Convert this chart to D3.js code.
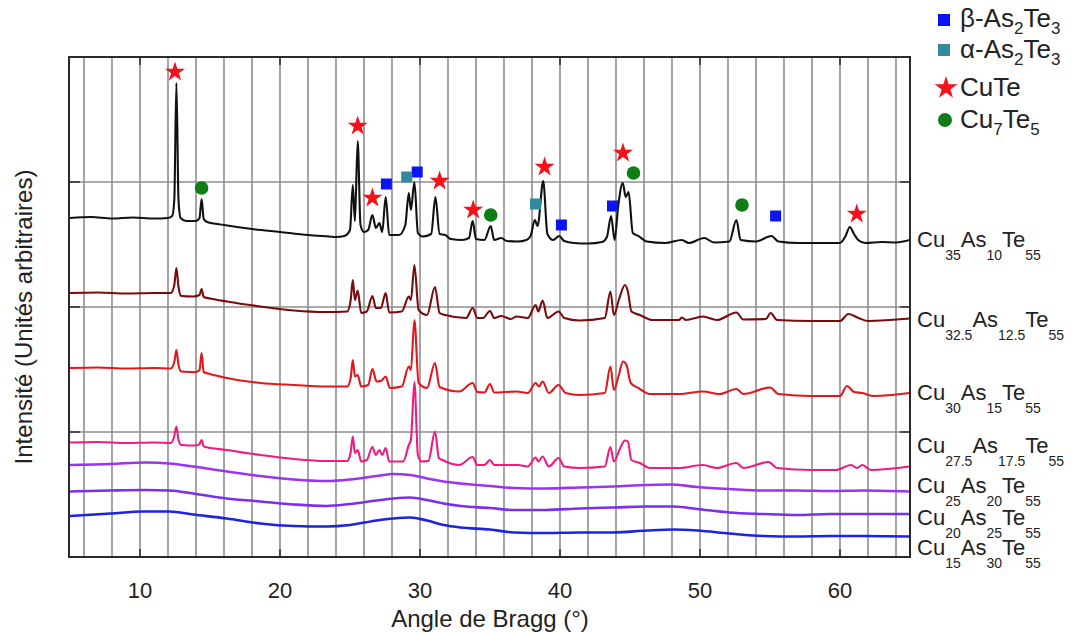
<!DOCTYPE html>
<html><head><meta charset="utf-8">
<script src="https://cdn.jsdelivr.net/npm/d3@7"></script>
<style>
body{margin:0;background:#fff}
svg{display:block}
text{font-family:"Liberation Sans",Arial,Helvetica,sans-serif;fill:#222}
</style>
</head><body>
<svg id="chart" width="1074" height="633"></svg>
<script>
// ---------- DATA ----------
const xTickLabels = [10, 20, 30, 40, 50, 60];
const yTickValues = [125, 250, 375];

// [angle (°), intensity (a.u.)]
const cu35 = [[5,339],[6.5,340],[8,338.5],[9.5,339.5],[11,338.5],[12,339],[12.3,341],[12.45,357],[12.6,474],[12.75,357],[12.9,339],[13.3,336],[14,336],[14.25,339],[14.4,358],[14.55,338],[14.8,335],[16,332],[18,328],[20,325],[22,322],[23.5,320.5],[24,320],[24.6,321],[25,327],[25.2,372],[25.35,336],[25.55,416],[25.75,332],[26,325],[26.3,327],[26.6,342],[26.85,329],[27.1,334],[27.3,325],[27.55,360],[27.8,322],[28.5,322],[28.95,332],[29.2,364],[29.35,347],[29.6,375],[29.85,324],[30.2,320.5],[30.8,323],[31.1,360],[31.4,323],[31.8,322],[32.2,318],[33,317],[33.5,319],[33.76,336],[34,318],[34.6,317],[35.05,331],[35.3,317],[35.8,319],[36.2,316],[37,315.5],[37.6,317],[37.9,321],[38.2,337],[38.4,331],[38.8,376],[39.1,323],[39.5,317],[39.95,321],[40.3,316],[41,314],[42,313.5],[43,315],[43.35,320],[43.65,341],[43.9,317],[44.15,350],[44.48,374],[44.7,360],[44.9,365],[45.2,324],[45.6,321],[46.2,315.5],[47.5,314],[48.7,317],[49.2,314],[50.3,319],[51,314.5],[52.1,315.5],[52.6,337],[52.9,317],[54,315.5],[55.1,321],[55.6,315.5],[57,314],[58.5,314],[60,314],[60.4,321],[60.7,330],[61,323],[61.3,317],[61.8,314],[63,315],[64,314.5],[65,317]];
const cu325 = [[5,264],[7,264.5],[9,263.5],[11,264],[12.2,264],[12.45,272],[12.6,289],[12.75,270],[12.95,261],[13.8,260.5],[14.25,262],[14.4,268],[14.55,260],[15,258.5],[16.2,255.5],[18.6,250.5],[21,246.5],[23.3,245],[24.8,245.5],[25.05,257],[25.2,277],[25.35,257],[25.55,266.5],[25.8,244],[26.2,245.5],[26.6,261],[26.85,249],[27.2,249],[27.55,264],[27.8,244.5],[28.7,245.5],[29.2,260.5],[29.35,257],[29.6,292],[29.9,247],[30.5,242],[31.07,270],[31.4,244],[31.8,242],[33.3,239],[33.76,249],[34.1,239],[34.5,239],[35,246],[35.3,239],[35.8,241],[36.5,238],[36.9,240.5],[37.7,239],[38.26,252],[38.45,245.5],[38.76,256.5],[39.1,239],[39.9,245.5],[40.3,239],[41.4,236.5],[43.2,239],[43.6,265.5],[43.85,242],[44.2,257],[44.64,272],[44.85,265.5],[45.1,245.5],[45.7,242],[46.6,237],[48.5,237],[48.7,239.5],[49,237],[50.2,240.5],[51.2,237],[52.6,244.5],[53.1,237.5],[54.7,238],[55.05,244],[55.5,237],[58,236],[60,236],[60.6,243],[61.4,238.5],[62,236],[65,238.5]];
const cu30 = [[5,189],[7,189.5],[9,188.5],[11,189],[12.2,188.5],[12.45,195],[12.6,207],[12.75,192],[12.95,185.5],[14,185],[14.25,187],[14.4,204],[14.55,185],[15,183],[16.2,179],[18.6,174],[21,172],[23.3,170.5],[24.8,170.5],[25.05,179],[25.2,197],[25.35,180.5],[25.55,182],[25.8,170.5],[26.3,172],[26.6,188],[26.9,175.5],[27.2,176],[27.55,180.5],[27.85,169],[28.7,170.5],[29.2,190.5],[29.35,187],[29.6,237],[29.9,174],[30.5,169],[31.07,194],[31.4,170],[32.8,165.5],[33.76,174],[34.1,165],[34.6,164.5],[35,173],[35.3,164.5],[36.9,165.5],[37.7,164],[38.26,174],[38.5,170.5],[38.76,175.5],[39.2,164],[39.9,172],[40.4,164],[41.4,162],[43.2,164],[43.6,190.5],[43.85,167],[44.2,182],[44.5,195.5],[44.75,192],[45.05,174],[45.6,169],[46.4,163],[48.5,163],[50.2,165.5],[51.4,163],[52.6,168],[53.1,163],[55,169.5],[55.6,163],[58,161],[60,161],[60.5,171],[61,165],[61.6,164],[62.4,161],[65,164]];
const cu275 = [[5,114.5],[7,115],[9,114],[11,114.5],[12.2,114],[12.45,121],[12.6,130.5],[12.75,117],[12.95,112],[14,111.5],[14.25,113],[14.4,117],[14.55,110.5],[16.2,107],[18.6,102],[21,98],[23.3,96],[24.8,96],[25.05,105],[25.2,120.5],[25.35,104],[25.55,107],[25.8,95.5],[26.2,97],[26.6,110],[26.85,102],[27.1,107],[27.3,102],[27.55,109],[27.8,95.5],[28.8,95.5],[29.2,112],[29.35,117],[29.6,175],[29.85,102],[30.1,95.5],[30.6,96],[31.07,125.5],[31.35,99],[31.6,97],[32.8,92],[33.76,100],[34.1,92],[34.6,92],[35,97],[35.3,92],[37,92],[37.7,90.5],[38.26,99.5],[38.45,95.5],[38.76,100.5],[39.2,90.5],[39.9,99],[40.3,90.5],[41.4,89],[43.2,90.5],[43.6,110],[43.85,95.5],[44.3,109],[44.64,116.5],[44.85,115.5],[45.1,97],[45.7,94],[46.4,89],[48.5,89],[50.2,92],[51.2,89],[52.6,94],[53.1,89],[54.9,95],[55.5,89],[58,87],[59.7,87],[60.8,92],[61.2,89],[61.6,92],[62.2,87],[65,90.5]];
const cu25 = [[5,92],[7.9,93],[10.4,94.5],[12.1,93.5],[13.8,90.5],[16.2,85.5],[18.6,81],[21,77.5],[23.3,76],[25,77.5],[26.9,81],[28.1,83],[29.3,82],[30.5,78.5],[31.7,75.5],[32.9,73.5],[35,71],[36.7,69],[39,68.5],[41.4,69.5],[43.8,70.5],[46.2,72],[47.9,72.5],[49.8,70],[52.1,68],[54.5,66.5],[56.9,66.5],[59.3,66],[61.7,66.5],[65,65.5]];
const cu20 = [[5,65.5],[7.9,66.5],[10.4,67],[12.1,66.5],[13.8,63.5],[16.2,58.5],[18.6,55.5],[21,52.5],[23.3,51],[25,53],[26.9,56.5],[28.1,58.5],[29.3,59.5],[30.5,57],[31.7,53.5],[32.9,51],[35,49],[36.7,47],[39,47],[41.4,48.5],[43.8,49.5],[46.2,50.5],[48.1,50.5],[49.8,48],[52.1,44.5],[54.5,43],[56.9,42],[59.3,43],[61.7,43],[65,43]];
const cu15 = [[5,41],[7.9,43.5],[10.2,45.5],[12.1,45.5],[13.8,42.5],[16.2,38.5],[18.6,33.5],[21,31],[23.3,30.5],[25,32],[26.9,36.5],[28.1,38.5],[29.3,39.5],[30.5,36.5],[31.7,32],[32.9,29.5],[35,27.5],[36.7,24.5],[39,24],[41.4,24.5],[43.8,24.5],[46.2,26.5],[48.1,27.5],[49.8,26.5],[52.1,23.5],[54.5,21],[56.9,20.5],[59.3,21],[61.7,21],[65,20.5]];

const seriesData = [cu35, cu325, cu30, cu275, cu25, cu20, cu15];
const seriesLabels = [
  [["Cu","35"],["As","10"],["Te","55"]],
  [["Cu","32.5"],["As","12.5"],["Te","55"]],
  [["Cu","30"],["As","15"],["Te","55"]],
  [["Cu","27.5"],["As","17.5"],["Te","55"]],
  [["Cu","25"],["As","20"],["Te","55"]],
  [["Cu","20"],["As","25"],["Te","55"]],
  [["Cu","15"],["As","30"],["Te","55"]]
];
const seriesColors = ["#111111","#7a0a0c","#e3161c","#f01a82","#9c33f2","#7a2ef2","#1c22e6"];

// phase markers [angle, intensity]
const cuTeStars = [[12.5,485],[25.55,431],[26.6,359],[31.4,376],[33.8,347],[38.9,390],[44.5,404],[61.2,343]];
const cu7te5Circles = [[14.4,369],[35.05,342],[45.25,384],[53.0,352]];
const betaSquares = [[27.6,373],[29.8,385],[40.1,332],[43.75,351],[55.4,341]];
const alphaSquares = [[29.05,380],[38.25,353]];

const legendItems = [
  {type:"sqB", parts:[["β-As","2"],["Te","3"]]},
  {type:"sqA", parts:[["α-As","2"],["Te","3"]]},
  {type:"star", parts:[["CuTe",""]]},
  {type:"circle", parts:[["Cu","7"],["Te","5"]]}
];

// ---------- LAYOUT ----------
const W = 1074, H = 633;
const L = 70, R = 910, T = 57, B = 557;
const COL = {sqB:"#0a14f5", sqA:"#33899c", star:"#f5101a", circle:"#0d7d14"};
const labelBaselines = [247, 327, 400, 453, 493, 525, 555];

const svg = d3.select("#chart");
const x = d3.scaleLinear().domain([5, 65]).range([L, R]);
const y = d3.scaleLinear().domain([0, 500]).range([B, T]);

svg.append("defs").append("clipPath").attr("id","clip")
  .append("rect").attr("x",L).attr("y",T).attr("width",R-L).attr("height",B-T);

// grid
const gridX = d3.range(6, 65, 2);
svg.append("g").selectAll("line").data(gridX).join("line")
  .attr("x1", d => x(d)).attr("x2", d => x(d)).attr("y1", T).attr("y2", B)
  .attr("stroke", "#8e8e8e").attr("stroke-width", 1.6);
svg.append("g").selectAll("line").data(yTickValues).join("line")
  .attr("x1", L).attr("x2", R).attr("y1", d => y(d)).attr("y2", d => y(d))
  .attr("stroke", "#8e8e8e").attr("stroke-width", 1.6);

// ticks (inward)
const tk = svg.append("g").attr("stroke","#333").attr("stroke-width",1.6);
xTickLabels.forEach(d => {
  tk.append("line").attr("x1",x(d)).attr("x2",x(d)).attr("y1",B).attr("y2",B-8);
  tk.append("line").attr("x1",x(d)).attr("x2",x(d)).attr("y1",T).attr("y2",T+8);
});
yTickValues.forEach(d => {
  tk.append("line").attr("x1",L).attr("x2",L+10).attr("y1",y(d)).attr("y2",y(d));
  tk.append("line").attr("x1",R).attr("x2",R-10).attr("y1",y(d)).attr("y2",y(d));
});

// lines
const line = d3.line().x(d => x(d[0])).y(d => y(d[1])).curve(d3.curveMonotoneX);
const gl = svg.append("g").attr("clip-path","url(#clip)");
seriesData.forEach((s, i) => {
  gl.append("path").datum(s).attr("d", line)
    .attr("fill","none").attr("stroke", seriesColors[i])
    .attr("stroke-width", i >= 4 ? 2.6 : 2.1).attr("stroke-linejoin","round");
});

// frame
svg.append("rect").attr("x",L-1).attr("y",T).attr("width",R-L+1).attr("height",B-T)
  .attr("fill","none").attr("stroke","#2a2a2a").attr("stroke-width",2);

// markers
const gm = svg.append("g");
gm.selectAll(".sb").data(betaSquares).join("rect")
  .attr("x", d => x(d[0]) - 5.5).attr("y", d => y(d[1]) - 5.5).attr("width",11).attr("height",11)
  .attr("fill", COL.sqB);
gm.selectAll(".sa").data(alphaSquares).join("rect")
  .attr("x", d => x(d[0]) - 5.5).attr("y", d => y(d[1]) - 5.5).attr("width",11).attr("height",11)
  .attr("fill", COL.sqA);
gm.selectAll(".ci").data(cu7te5Circles).join("circle")
  .attr("cx", d => x(d[0])).attr("cy", d => y(d[1])).attr("r", 6.8).attr("fill", COL.circle);
const starPath = d3.symbol(d3.symbolStar, 125)();
gm.selectAll(".st").data(cuTeStars).join("path")
  .attr("d", starPath).attr("transform", d => `translate(${x(d[0])},${y(d[1])})`)
  .attr("fill", COL.star);

// axis labels
svg.append("g").selectAll("text").data(xTickLabels).join("text")
  .attr("x", d => x(d)).attr("y", 598).attr("text-anchor","middle")
  .attr("font-size", 22).text(d => d);
svg.append("text").attr("x", 490).attr("y", 627).attr("text-anchor","middle")
  .attr("font-size", 24).text("Angle de Bragg (°)");
svg.append("text").attr("transform","translate(32,317) rotate(-90)").attr("text-anchor","middle")
  .attr("font-size", 24).text("Intensité (Unités arbitraires)");

// series labels
function subText(g, parts, x0, base, fMain, fSub, dSub) {
  const t = g.append("text").attr("x", x0).attr("y", base).attr("font-size", fMain);
  parts.forEach(p => {
    t.append("tspan").attr("y", base).attr("font-size", fMain).text(p[0]);
    if (p[1]) t.append("tspan").attr("y", base + dSub).attr("font-size", fSub).text(p[1]);
  });
  return t;
}
const glab = svg.append("g");
seriesLabels.forEach((parts, i) => subText(glab, parts, 917, labelBaselines[i], 22, 14, 12.5));

// legend
const legY = [20, 50, 88, 120];
const legBase = [27, 58, 96, 128];
const gleg = svg.append("g");
legendItems.forEach((it, i) => {
  const cx = 944, cy = legY[i];
  if (it.type === "sqB" || it.type === "sqA") {
    gleg.append("rect").attr("x", cx-6).attr("y", cy-6).attr("width",12).attr("height",12).attr("fill", COL[it.type]);
  } else if (it.type === "star") {
    gleg.append("path").attr("d", d3.symbol(d3.symbolStar, 160)()).attr("transform",`translate(${cx+2},${cy})`).attr("fill", COL.star);
  } else {
    gleg.append("circle").attr("cx", cx+1).attr("cy", cy).attr("r", 7).attr("fill", COL.circle);
  }
  subText(gleg, it.parts, 960, legBase[i], 26, 17, 7);
});
</script>
</body></html>
